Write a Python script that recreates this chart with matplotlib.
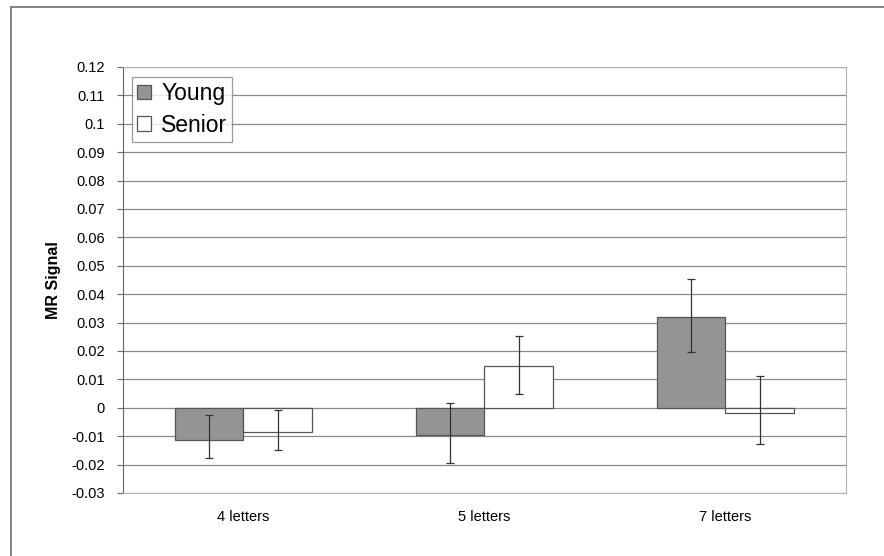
import numpy as np
import matplotlib.pyplot as plt
from matplotlib.patches import Rectangle

plt.rcParams['font.family'] = ['Liberation Sans', 'DejaVu Sans']

# Données du graphique
categories = ['4 letters', '5 letters', '7 letters']
young = [-0.0114, -0.0095, 0.0321]
senior = [-0.0085, 0.0147, -0.0019]
# bornes des barres d'erreur (bas, haut)
young_err_bas = [-0.0176, -0.0193, 0.0195]
young_err_haut = [-0.0027, 0.0018, 0.0452]
senior_err_bas = [-0.0147, 0.0049, -0.0127]
senior_err_haut = [-0.0008, 0.0252, 0.0112]
yticks = [-0.03, -0.02, -0.01, 0, 0.01, 0.02, 0.03, 0.04, 0.05, 0.06, 0.07, 0.08, 0.09, 0.1, 0.11, 0.12]

fig = plt.figure(figsize=(8.84, 5.56), dpi=100)
ax = fig.add_axes([123 / 884, 1 - 493 / 556, (846 - 123) / 884, (493 - 67) / 556])

# cadre extérieur (coupé à droite et en bas)
fig.patches.append(Rectangle((11 / 884, -0.1), 1.2, 1 - 6.5 / 556 + 0.1, transform=fig.transFigure,
                             fill=False, edgecolor='#6e6e6e', linewidth=1.2))

x = np.arange(len(categories))
w = 1 / 3.5

def erreurs(vals, bas, haut):
    return [np.array(vals) - np.array(bas), np.array(haut) - np.array(vals)]

ax.bar(x - w / 2, young, w, color='#949494', edgecolor='#555555', linewidth=0.9, zorder=3, label='Young')
ax.bar(x + w / 2, senior, w, color='white', edgecolor='#555555', linewidth=0.9, zorder=3, label='Senior')
ax.errorbar(x - w / 2, young, yerr=erreurs(young, young_err_bas, young_err_haut), fmt='none',
            ecolor='#333333', elinewidth=0.9, capsize=3, capthick=0.9, zorder=4)
ax.errorbar(x + w / 2, senior, yerr=erreurs(senior, senior_err_bas, senior_err_haut), fmt='none',
            ecolor='#333333', elinewidth=0.9, capsize=3, capthick=0.9, zorder=4)

ax.set_xlim(-0.5, 2.5)
ax.set_ylim(-0.03, 0.12)
ax.set_yticks(yticks)
ax.set_yticklabels([f'{v:g}' for v in yticks], fontsize=10.5)
ax.set_xticks(x)
ax.set_xticklabels(categories, fontsize=10.5)
ax.tick_params(axis='x', length=0, pad=12)
ax.tick_params(axis='y', length=4.3, color='#666666', pad=9)
ax.grid(axis='y', color='#8a8a8a', linewidth=0.9, zorder=0)
ax.set_ylabel('MR Signal', fontsize=11.5, fontweight='bold', labelpad=7)

for cote in ['top', 'right', 'bottom']:
    ax.spines[cote].set_color('#b0b0b0')
ax.spines['left'].set_color('#666666')

leg = ax.legend(loc='upper left', bbox_to_anchor=(0.0125, 0.976), fontsize=16.5, frameon=True,
                fancybox=False, edgecolor='#808080', handlelength=0.6, handleheight=0.6,
                handletextpad=0.45, borderpad=0.22, labelspacing=0.36, borderaxespad=0)
leg.get_frame().set_linewidth(0.9)

fig.savefig('out.png', dpi=100)
